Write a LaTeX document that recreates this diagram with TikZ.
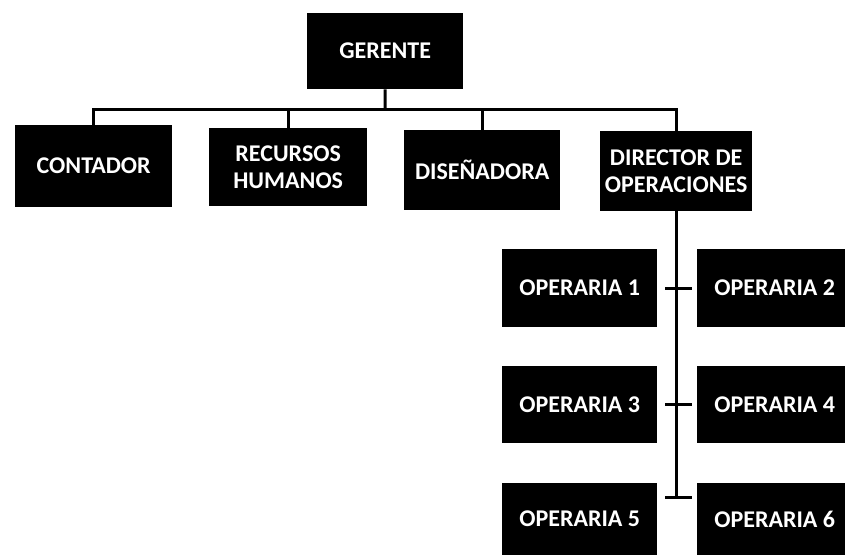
\documentclass[tikz,border=0pt]{standalone}
\usepackage{fontspec}
\setmainfont{Carlito}
\begin{document}
\begin{tikzpicture}[x=1pt,y=-1pt,
  orgbox/.style={fill=black, text=white, inner sep=0pt, anchor=north west,
    font=\fontsize{24}{27}\selectfont\bfseries, align=center},
  link/.style={draw=black, line width=3pt},
  gapped/.style={link, shorten <=8pt, shorten >=5pt}]
\useasboundingbox (0,0) rectangle (845,554);
\clip (0,0) rectangle (845,554);
\fill[white] (0,0) rectangle (845,554);
% top
\node[orgbox, minimum width=156pt, minimum height=76pt] (ger) at (307,13) {GERENTE};
% second level
\node[orgbox, minimum width=157pt, minimum height=82pt] (cont) at (15,125) {CONTADOR};
\node[orgbox, minimum width=158pt, minimum height=78pt] (rh) at (209,128) {RECURSOS\\HUMANOS};
\node[orgbox, minimum width=156pt, minimum height=80pt] (dis) at (404,130) {DISEÑADORA};
\node[orgbox, minimum width=152pt, minimum height=80pt] (dir) at (600,131) {DIRECTOR DE\\OPERACIONES};
% operarias
\node[orgbox, minimum width=155pt, minimum height=78pt] (op1) at (502,249) {OPERARIA 1};
\node[orgbox, minimum width=155pt, minimum height=78pt] (op2) at (697,249) {OPERARIA 2};
\node[orgbox, minimum width=155pt, minimum height=77pt] (op3) at (502,366) {OPERARIA 3};
\node[orgbox, minimum width=155pt, minimum height=77pt] (op4) at (697,366) {OPERARIA 4};
\node[orgbox, minimum width=155pt, minimum height=72pt] (op5) at (502,483) {OPERARIA 5};
\node[orgbox, minimum width=155pt, minimum height=72pt] (op6) at (697,483) {OPERARIA 6};
% connectors
\coordinate (bus) at (385,109);
\coordinate (t3) at (677,497);
\draw[link] (ger.south) -- (bus);
\draw[link] (cont.north) |- (bus) -| (dir.north);
\draw[link] (rh.north) -- (rh.north |- bus);
\draw[link] (dis.north) -- (dis.north |- bus);
\draw[link] (dir.south) -- (dir.south |- t3);
\draw[gapped] (op1.east) -- (op2.west);
\draw[gapped] (op3.east) -- (op4.west);
\draw[gapped] (op5.east |- t3) -- (op6.west |- t3);
\end{tikzpicture}
\end{document}
